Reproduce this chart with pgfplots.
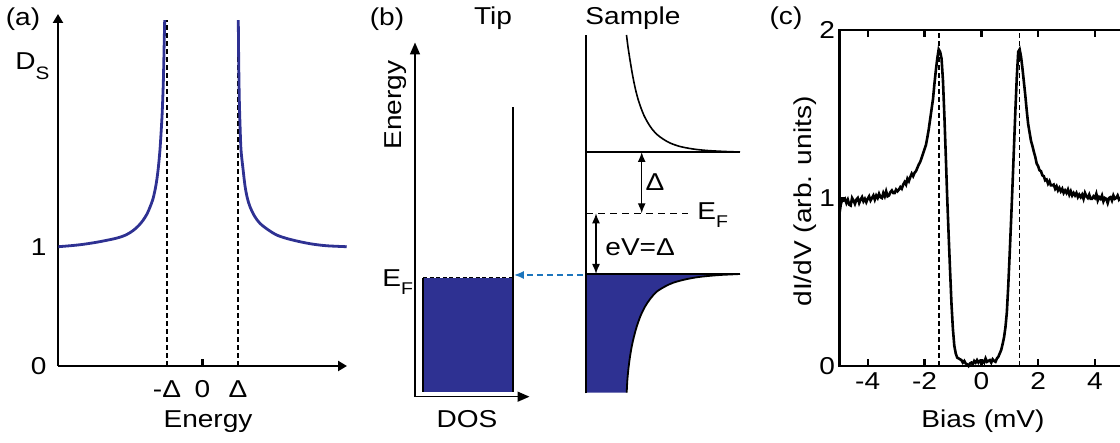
\documentclass[border=0pt]{standalone}
\usepackage{fontspec}
\setmainfont[FakeStretch=1.15]{Liberation Sans}
\usepackage{pgfplots}
\pgfplotsset{compat=1.18}
\usetikzlibrary{arrows.meta}
\definecolor{dosblue}{HTML}{2E3192}
\definecolor{tunnelblue}{HTML}{1C75BC}
\newcommand{\sub}[1]{\raisebox{-4pt}{\fontsize{8.5}{9}\selectfont #1}}

\begin{document}
\begin{tikzpicture}[x=0.5pt, y=0.5pt, font=\fontsize{12.2}{14}\selectfont]
\useasboundingbox (0,0) rectangle (1120,443);
\pgfplotsset{
  every axis/.append style={scale only axis, anchor=south west, clip=false,
    /pgf/number format/assume math mode=true,
    tick label style={font=\fontsize{12.2}{14}\selectfont}},
}

% (a) BCS density of states
\begin{axis}[at={(29pt,38.5pt)}, width=144.5pt, height=176pt,
  xmin=-4.07, xmax=4.07, ymin=0, ymax=2.96,
  axis lines=left,
  axis line style={line width=1.2pt, -{Triangle[width=5pt,length=4.5pt]}},
  xtick={-1,0,1}, xticklabels={-Δ,0,Δ}, ytick={0,1},
  major tick length=0pt,
  xticklabel style={inner sep=7pt},
  yticklabel style={inner sep=5.5pt}]
\addplot[line width=1.2pt] coordinates {(0,0) (0,0.06)};
\addplot[line width=0.8pt, dash pattern=on 2.5pt off 1.5pt] coordinates {(-1,0) (-1,2.91)};
\addplot[line width=0.8pt, dash pattern=on 2.5pt off 1.5pt] coordinates {(1,0) (1,2.91)};
\addplot[dosblue, line width=1.4pt, smooth] coordinates {
  (-4.06,1.003) (-3.70,1.012) (-3.36,1.023) (-2.90,1.045) (-2.42,1.075)
  (-2.15,1.103) (-1.95,1.14) (-1.80,1.18) (-1.67,1.227) (-1.56,1.28)
  (-1.48,1.335) (-1.40,1.40) (-1.34,1.475) (-1.29,1.56) (-1.245,1.665)
  (-1.20,1.81) (-1.169,1.95) (-1.14,2.10) (-1.121,2.235) (-1.105,2.37)
  (-1.093,2.515) (-1.08,2.70) (-1.065,2.908)};
\addplot[dosblue, line width=1.4pt, smooth] coordinates {
  (1.008,2.908) (1.02,2.55) (1.037,2.235) (1.06,2.0) (1.085,1.815)
  (1.14,1.66) (1.197,1.515) (1.26,1.415) (1.338,1.339) (1.47,1.258)
  (1.62,1.199) (1.85,1.145) (2.093,1.101) (2.40,1.07) (2.746,1.045)
  (3.10,1.025) (3.499,1.011) (4.062,1.003)};
\end{axis}

% (b) tunnelling schematic, drawn in picture pixel units
\begin{axis}[at={(180pt,0pt)}, width=190pt, height=221.5pt,
  xmin=360, xmax=740, ymin=0, ymax=443, hide axis]
% tip
\addplot[fill=dosblue, draw=none] coordinates {(423,51.3) (513,51.3) (513,165.3) (423,165.3)};
\addplot[line width=1pt] coordinates {(423,51.3) (423,165.3)};
\addplot[line width=1.1pt] coordinates {(513,51.3) (513,336.3)};
\addplot[line width=0.7pt, dash pattern=on 2pt off 1.3pt] coordinates {(423,165.3) (513,165.3)};
\addplot[line width=0.8pt, -{Triangle[width=5pt,length=6pt]}] coordinates {(415,46.3) (415,400.5)};
\addplot[line width=0.8pt, -{Triangle[width=5pt,length=6pt]}] coordinates {(415,46.3) (529.5,46.3)};
% sample occupied states
\addplot[fill=dosblue, draw=none] coordinates {
  (586,169) (740,169) (730,168.5) (720,168) (708,167) (696.7,165.7) (685,163.5)
  (673.3,160.3) (665,156.5) (656.7,151.3) (650.5,144.5) (645,136.3) (640.5,127)
  (636.7,116.3) (634,106.5) (631.7,96.3) (629.8,85) (628.3,73) (627.3,62)
  (626.7,50.3) (586,50.3)};
\addplot[line width=0.9pt, smooth] coordinates {
  (740,169) (730,168.5) (720,168) (708,167) (696.7,165.7) (685,163.5)
  (673.3,160.3) (665,156.5) (656.7,151.3) (650.5,144.5) (645,136.3) (640.5,127)
  (636.7,116.3) (634,106.5) (631.7,96.3) (629.8,85) (628.3,73) (627.3,62)
  (626.7,50.3)};
% sample empty states
\addplot[line width=0.8pt, smooth] coordinates {
  (626.5,408) (628,396) (630,383) (632,371) (634,360.5) (636,351.5)
  (638,344) (641,335) (644,327.5) (648,320) (652,314) (657,308.5)
  (663,304) (670,300) (680,296.5) (693,294) (707,292.5) (725,291.5) (740,291)};
\addplot[line width=1.1pt] coordinates {(586,49.7) (586,408)};
\addplot[line width=0.8pt] coordinates {(586,291) (740,291)};
\addplot[line width=0.8pt] coordinates {(586,169) (740,169)};
\addplot[line width=0.7pt, dash pattern=on 3.5pt off 2.5pt] coordinates {(586,229.7) (688.3,229.7)};
\addplot[line width=0.7pt, {Latex[length=5pt,width=4pt]}-{Latex[length=5pt,width=4pt]}]
  coordinates {(641.7,291) (641.7,229.7)};
\addplot[line width=0.7pt, {Latex[length=5pt,width=4pt]}-{Latex[length=5pt,width=4pt]}]
  coordinates {(596,229.7) (596,169)};
\addplot[tunnelblue, line width=0.9pt, dash pattern=on 3pt off 2pt, -{Latex[length=5pt,width=4pt]}]
  coordinates {(582.7,168) (513.8,168)};
\end{axis}

% (c) measured spectrum
\begin{axis}[at={(419.65pt,38.5pt)}, width=142pt, height=168pt,
  xmin=-5, xmax=5, ymin=0, ymax=2,
  xtick={-4,-2,0,2,4}, ytick={0,1,2},
  tick align=inside, xtick pos=both, ytick pos=left,
  major tick length=3.3pt,
  axis line style={line width=1.2pt},
  tick style={line width=1.2pt, black},
  xticklabel style={inner sep=3pt},
  yticklabel style={inner sep=2pt}]
\addplot[line width=0.8pt, dash pattern=on 2.5pt off 1.5pt] coordinates {(-1.5,0) (-1.5,2)};
\addplot[line width=0.8pt, dash pattern=on 2.5pt off 1.5pt] coordinates {(1.35,0) (1.35,2)};
\addplot[line width=1.3pt] coordinates {
(-5.00,0.90) (-4.95,0.96) (-4.90,0.99) (-4.85,0.985) (-4.80,0.995) (-4.75,0.97)
(-4.70,0.99) (-4.65,0.96) (-4.60,0.955) (-4.55,1.0) (-4.50,0.985) (-4.45,0.965)
(-4.40,0.99) (-4.35,1.0) (-4.30,0.97) (-4.25,0.99) (-4.20,1.005) (-4.15,0.98)
(-4.10,0.995) (-4.05,0.975) (-4.00,0.995) (-3.95,1.01) (-3.90,0.985) (-3.85,1.0)
(-3.80,1.015) (-3.75,0.99) (-3.70,1.015) (-3.65,1.0) (-3.60,1.025) (-3.55,1.005)
(-3.50,1.0) (-3.45,1.03) (-3.40,1.01) (-3.35,1.04) (-3.30,1.01) (-3.25,1.015)
(-3.20,1.035) (-3.15,1.045) (-3.10,1.03) (-3.05,1.03) (-3.00,1.05) (-2.95,1.04)
(-2.90,1.05) (-2.85,1.065) (-2.80,1.055) (-2.75,1.08) (-2.70,1.095) (-2.65,1.08)
(-2.60,1.115) (-2.55,1.10) (-2.50,1.125) (-2.45,1.145) (-2.40,1.13) (-2.35,1.15)
(-2.30,1.16) (-2.25,1.18) (-2.20,1.20) (-2.15,1.215) (-2.10,1.24) (-2.05,1.265)
(-2.00,1.29) (-1.95,1.315) (-1.90,1.36) (-1.85,1.41) (-1.80,1.47) (-1.75,1.53)
(-1.70,1.59) (-1.65,1.68) (-1.60,1.76) (-1.55,1.83) (-1.50,1.885) (-1.45,1.87)
(-1.40,1.83) (-1.35,1.70) (-1.30,1.49) (-1.25,1.25) (-1.20,1.00) (-1.15,0.78)
(-1.10,0.57) (-1.05,0.37) (-1.00,0.22) (-0.95,0.12) (-0.90,0.075) (-0.85,0.05)
(-0.80,0.045) (-0.75,0.04) (-0.70,0.035) (-0.65,0.02) (-0.60,0.03) (-0.55,0.015)
(-0.50,0.01) (-0.45,0.0) (-0.40,0.015) (-0.35,0.02) (-0.30,0.01) (-0.25,0.03)
(-0.20,0.02) (-0.15,0.035) (-0.10,0.02) (-0.05,0.03) (0.00,0.025) (0.05,0.03)
(0.10,0.02) (0.15,0.045) (0.20,0.025) (0.25,0.03) (0.30,0.035) (0.35,0.02)
(0.40,0.04) (0.45,0.03) (0.50,0.025) (0.55,0.045) (0.60,0.055) (0.65,0.075)
(0.70,0.095) (0.75,0.13) (0.80,0.17) (0.85,0.23) (0.90,0.32) (0.95,0.48)
(1.00,0.67) (1.05,0.87) (1.10,1.08) (1.15,1.30) (1.20,1.52) (1.25,1.72)
(1.30,1.87) (1.35,1.885) (1.40,1.84) (1.45,1.77) (1.50,1.69) (1.55,1.61)
(1.60,1.52) (1.65,1.44) (1.70,1.39) (1.75,1.34) (1.80,1.31) (1.85,1.275)
(1.90,1.245) (1.95,1.205) (2.00,1.19) (2.05,1.165) (2.10,1.16) (2.15,1.135)
(2.20,1.13) (2.25,1.105) (2.30,1.11) (2.35,1.085) (2.40,1.10) (2.45,1.075)
(2.50,1.075) (2.55,1.08) (2.60,1.055) (2.65,1.07) (2.70,1.045) (2.75,1.06)
(2.80,1.04) (2.85,1.055) (2.90,1.03) (2.95,1.045) (3.00,1.03) (3.05,1.05)
(3.10,1.02) (3.15,1.04) (3.20,1.015) (3.25,1.03) (3.30,1.015) (3.35,1.03)
(3.40,1.005) (3.45,1.02) (3.50,1.005) (3.55,1.02) (3.60,0.995) (3.65,1.03)
(3.70,1.01) (3.75,1.0) (3.80,1.02) (3.85,0.995) (3.90,0.995) (3.95,1.01)
(4.00,1.0) (4.05,1.025) (4.10,0.985) (4.15,1.005) (4.20,0.995) (4.25,1.015)
(4.30,0.98) (4.35,1.0) (4.40,0.995) (4.45,0.97) (4.50,1.0) (4.55,1.005)
(4.60,0.985) (4.65,1.015) (4.70,0.995) (4.75,1.0) (4.80,1.015) (4.85,0.99)
(4.90,1.0) (4.95,1.005) (5.00,1.0)};
\end{axis}

% labels
\node[anchor=base] at (23,417) {(a)};
\node[anchor=base] at (387,417) {(b)};
\node[anchor=base] at (786,418) {(c)};
\node[anchor=base] at (493,418) {Tip};
\node[anchor=base] at (633,418) {Sample};
\node[anchor=base] at (208,15) {Energy};
\node[anchor=base] at (467,15.7) {DOS};
\node[anchor=base] at (983,15) {Bias (mV)};
\node[anchor=base, rotate=90] at (401,338) {Energy};
\node[anchor=base, rotate=90] at (811,241.5) {dI/dV (arb. units)};
\node[anchor=base west, inner sep=0pt] at (15,373) {D\raisebox{-5pt}{\fontsize{9}{9}\selectfont S}};
\node[anchor=base west, inner sep=0pt] at (382,156) {E\sub{F}};
\node[anchor=base west, inner sep=0pt] at (697,223) {E\sub{F}};
\node[anchor=base] at (655,252.3) {Δ};
\node[anchor=base west, inner sep=0pt] at (605,187) {eV=Δ};
\end{tikzpicture}
\end{document}
